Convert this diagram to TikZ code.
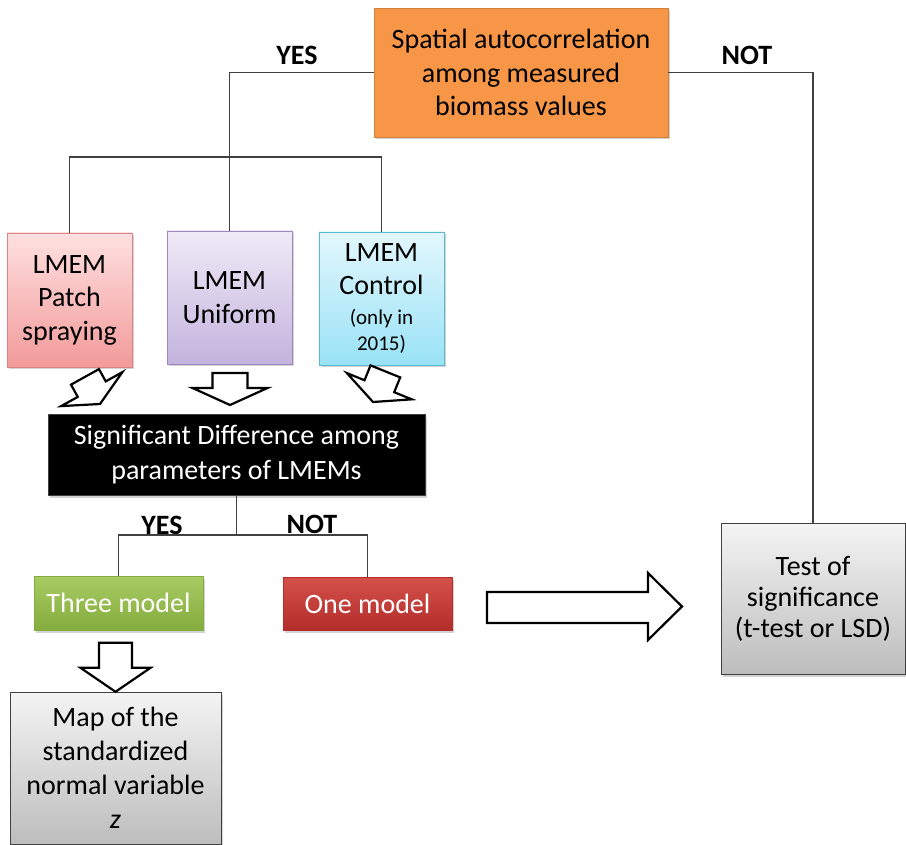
\documentclass[tikz,border=0pt]{standalone}
\usepackage{fontspec}
\setmainfont{Carlito}
\usetikzlibrary{shadows}
\definecolor{orangeF}{HTML}{F79646}
\definecolor{patchT}{HTML}{FFE0E0}
\definecolor{patchB}{HTML}{F29A9A}
\definecolor{patchD}{HTML}{D98583}
\definecolor{uniT}{HTML}{F0EAF7}
\definecolor{uniB}{HTML}{C3B3DD}
\definecolor{uniD}{HTML}{9F88C2}
\definecolor{ctlT}{HTML}{E3F7FD}
\definecolor{ctlB}{HTML}{99E2F6}
\definecolor{ctlD}{HTML}{5BB8D2}
\definecolor{greenT}{HTML}{A8CB62}
\definecolor{greenB}{HTML}{84AC3E}
\definecolor{redT}{HTML}{D4504B}
\definecolor{redB}{HTML}{B32E2A}
\definecolor{grayT}{HTML}{F4F4F4}
\definecolor{grayB}{HTML}{BDBDBD}
\definecolor{lineC}{HTML}{404040}
\begin{document}
\begin{tikzpicture}[x=1pt,y=-1pt,
  box/.style={rectangle, inner sep=0pt, align=center,
    font=\fontsize{28}{33.5}\selectfont,
    drop shadow={opacity=0.35,shadow xshift=2pt,shadow yshift=-2.5pt}},
  lbl/.style={font=\fontsize{28}{30}\selectfont\bfseries, inner sep=0pt},
  conn/.style={draw=lineC, line width=1.3pt},
  barrow/.style={draw=black, fill=white, line width=2.2pt, line join=miter}
]
\useasboundingbox (0,0) rectangle (906,845);

% boxes
\node[box, fill=orangeF, draw=orangeF!85!black, minimum width=294pt, minimum height=129pt]
  (orange) at (521,72.5) {Spatial autocorrelation\\among measured\\biomass values};
\node[box, top color=patchT, bottom color=patchB, draw=patchD, minimum width=125pt, minimum height=134pt]
  (patch) at (69.5,300) {LMEM\\Patch\\spraying};
\node[box, top color=uniT, bottom color=uniB, draw=uniD, minimum width=125pt, minimum height=133pt]
  (uni) at (229.5,297.5) {LMEM\\Uniform};
\node[box, top color=ctlT, bottom color=ctlB, draw=ctlD, minimum width=125pt, minimum height=133pt]
  (ctl) at (381.5,298.5) {LMEM\\Control\\[-4pt]{\fontsize{21}{25}\selectfont (only in}\\[-7pt]{\fontsize{21}{25}\selectfont 2015)}};
\node[box, fill=black, draw=lineC, text=white, minimum width=377pt, minimum height=81pt,
  font=\fontsize{28}{35}\selectfont]
  (sig) at (236.5,454.5) {Significant Difference among\\parameters of LMEMs};
\node[box, top color=greenT, bottom color=greenB, draw=greenB, text=white, minimum width=169pt, minimum height=54pt]
  (three) at (118.5,603) {Three model};
\node[box, top color=redT, bottom color=redB, draw=redB, text=white, minimum width=169pt, minimum height=53pt]
  (one) at (367.5,603.5) {One model};
\node[box, top color=grayT, bottom color=grayB, draw=lineC, minimum width=211pt, minimum height=152pt,
  font=\fontsize{28}{34}\selectfont]
  (map) at (115.5,768) {Map of the\\standardized\\normal variable\\\textit{z}};
\node[box, top color=grayT, bottom color=grayB, draw=lineC, minimum width=184pt, minimum height=151pt,
  font=\fontsize{28}{31}\selectfont]
  (test) at (813,598.5) {Test of\\significance\\(t-test or LSD)};

% labels
\node[lbl] (yes1) at (297,55) {YES};
\node[lbl] (not1) at (747,55) {NOT};
\node[lbl] (yes2) at (162,525) {YES};
\node[lbl] (not2) at (312,524) {NOT};

% connectors
\draw[conn] (orange.west) -| (uni.north);
\draw[conn] (patch.north) -- (patch.north |- 0,157) -| (ctl.north);
\draw[conn] (orange.east) -| (test.north);
\draw[conn] (sig.south) -- (sig.south |- 0,535);
\draw[conn] (three.north) -- (three.north |- 0,535) -| (one.north);

% block arrows (tip at origin, pointing down in local coordinates)
\draw[barrow, shift={(100,404)}, rotate=29]
  (-16,-31) -- (16,-31) -- (16,-17) -- (35,-17) -- (0,0) -- (-35,-17) -- (-16,-17) -- cycle;
\draw[barrow, shift={(230,405)}]
  (-17.5,-32) -- (17.5,-32) -- (17.5,-17) -- (37.5,-17) -- (0,0) -- (-37.5,-17) -- (-17.5,-17) -- cycle;
\draw[barrow, shift={(373,402)}, rotate=-22]
  (-16,-33) -- (16,-33) -- (16,-17) -- (35,-17) -- (0,0) -- (-35,-17) -- (-16,-17) -- cycle;
\draw[barrow, shift={(map.north)}]
  (-16.5,-49) -- (16.5,-49) -- (16.5,-24) -- (35,-24) -- (0,0) -- (-35,-24) -- (-16.5,-24) -- cycle;
\draw[barrow]
  (487,592) -- (648,592) -- (648,573) -- (682,606.5) -- (648,640) -- (648,623) -- (487,623) -- cycle;
\end{tikzpicture}
\end{document}
